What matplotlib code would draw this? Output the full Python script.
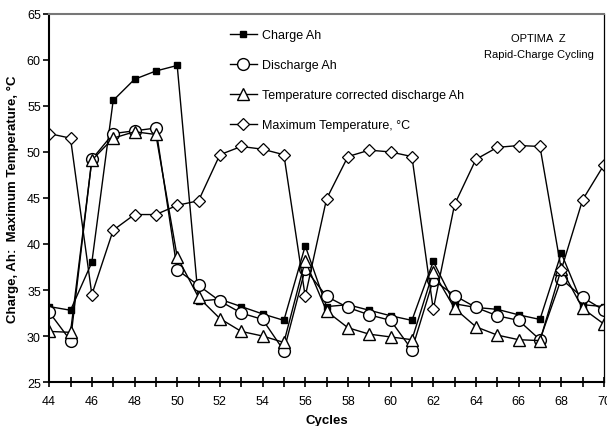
import matplotlib.pyplot as plt
from matplotlib.ticker import MultipleLocator

plt.rcParams.update({"font.family": ["Liberation Sans", "DejaVu Sans"], "font.size": 9})

cycles = list(range(44, 71))

charge_ah = [33.2, 32.8, 38.0, 55.6, 57.9, 58.8, 59.4, 33.8, 34.0, 33.2, 32.4, 31.7, 39.8,
             33.2, 33.4, 32.8, 32.2, 31.7, 38.1, 33.5, 33.1, 32.9, 32.3, 31.8, 39.0, 33.4, 33.2]
discharge_ah = [32.6, 29.5, 49.2, 52.0, 52.3, 52.6, 37.2, 35.5, 33.8, 32.5, 31.8, 28.4, 37.3,
                34.3, 33.1, 32.3, 31.7, 28.5, 36.1, 34.4, 33.1, 32.2, 31.7, 29.6, 36.2, 34.2, 32.8]
temp_corr_ah = [30.5, 30.4, 49.1, 51.5, 52.2, 51.9, 38.6, 34.2, 31.9, 30.5, 30.0, 29.3, 38.2,
                32.7, 30.9, 30.2, 29.9, 29.6, 37.0, 33.0, 31.0, 30.1, 29.6, 29.5, 37.3, 33.0, 31.3]
max_temp = [52.0, 51.5, 34.5, 41.5, 43.2, 43.2, 44.2, 44.7, 49.7, 50.6, 50.3, 49.7, 34.3,
            44.9, 49.5, 50.2, 50.0, 49.5, 32.9, 44.3, 49.2, 50.5, 50.7, 50.6, 37.2, 44.8, 48.6]

fig = plt.figure(figsize=(6.07, 4.27), dpi=100)
ax = fig.add_axes([0.081, 0.103, 0.914, 0.862])

line_kw = dict(color="black", linewidth=1.0)
ax.plot(cycles, charge_ah, marker="s", markersize=5, markerfacecolor="black",
        markeredgecolor="black", label="Charge Ah", **line_kw)
ax.plot(cycles, discharge_ah, marker="o", markersize=8.5, markerfacecolor="white",
        markeredgecolor="black", markeredgewidth=1.0, label="Discharge Ah", **line_kw)
ax.plot(cycles, temp_corr_ah, marker="^", markersize=9, markerfacecolor="white",
        markeredgecolor="black", markeredgewidth=1.0,
        label="Temperature corrected discharge Ah", **line_kw)
ax.plot(cycles, max_temp, marker="D", markersize=6, markerfacecolor="white",
        markeredgecolor="black", markeredgewidth=0.9,
        label="Maximum Temperature, \u00b0C", **line_kw)

ax.set_xlim(44, 70)
ax.set_ylim(25, 65)
ax.xaxis.set_major_locator(MultipleLocator(2))
ax.xaxis.set_minor_locator(MultipleLocator(1))
ax.yaxis.set_major_locator(MultipleLocator(5))
ax.tick_params(axis="x", which="both", direction="inout", length=7, width=1.2, pad=6)
ax.tick_params(axis="y", direction="out", length=4, width=1.2, pad=2)

for side in ["left", "bottom"]:
    ax.spines[side].set_linewidth(1.5)
ax.spines["top"].set_color("#777777")
ax.spines["top"].set_linewidth(1.5)
ax.spines["right"].set_linestyle((0, (2, 1)))
ax.spines["right"].set_linewidth(0.9)

ax.set_xlabel("Cycles", fontweight="bold", fontsize=9.5, labelpad=5)
ax.set_ylabel("Charge, Ah:  Maximum Temperature, \u00b0C", fontweight="bold", fontsize=9.5,
              labelpad=6)

ax.legend(loc="upper left", bbox_to_anchor=(0.305, 0.99), frameon=False, fontsize=9,
          labelspacing=1.45, handlelength=2.2, handletextpad=0.4)

ax.text(0.882, 0.926, "OPTIMA  Z", transform=ax.transAxes, ha="center", fontsize=8)
ax.text(0.882, 0.884, "Rapid-Charge Cycling", transform=ax.transAxes, ha="center", fontsize=8)

fig.savefig("out.png", dpi=100)
